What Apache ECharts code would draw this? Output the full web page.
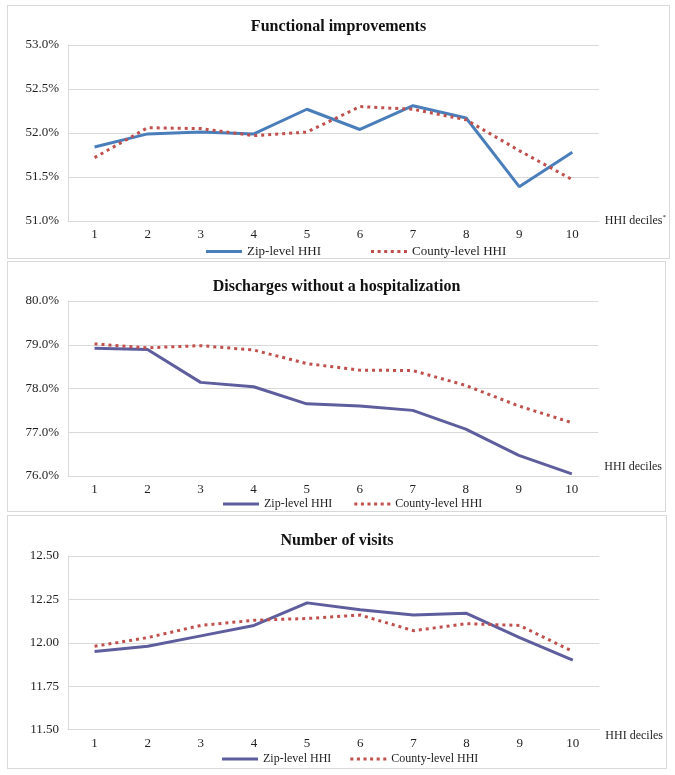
<!DOCTYPE html>
<html>
<head>
<meta charset="utf-8">
<script src="https://cdn.jsdelivr.net/npm/echarts@6/dist/echarts.min.js"></script>
<style>
  html, body { margin: 0; padding: 0; background: #fff; }
  .panel { position: absolute; border: 1px solid #d9d9d9; background: #fff; }
</style>
</head>
<body>
<div id="p1" class="panel" style="left:7px;top:5px;width:661px;height:252px;"></div>
<div id="p2" class="panel" style="left:7px;top:261px;width:657px;height:249px;"></div>
<div id="p3" class="panel" style="left:7px;top:515px;width:658px;height:252px;"></div>
<script>
// ---------- data ----------
const deciles = ['1','2','3','4','5','6','7','8','9','10'];
const seriesNames = ['Zip-level HHI', 'County-level HHI'];

const titles = ['Functional improvements', 'Discharges without a hospitalization', 'Number of visits'];

// Functional improvements (%)
const funcZip    = [51.84, 51.99, 52.01, 51.99, 52.27, 52.04, 52.31, 52.17, 51.39, 51.78];
const funcCounty = [51.72, 52.06, 52.05, 51.97, 52.01, 52.30, 52.27, 52.15, 51.80, 51.47];

// Discharges without a hospitalization (%)
const dischZip    = [78.92, 78.89, 78.14, 78.04, 77.65, 77.60, 77.50, 77.07, 76.47, 76.05];
const dischCounty = [79.02, 78.93, 78.98, 78.88, 78.57, 78.42, 78.41, 78.07, 77.60, 77.22];

// Number of visits
const visitsZip    = [11.95, 11.98, 12.04, 12.10, 12.23, 12.19, 12.16, 12.17, 12.03, 11.90];
const visitsCounty = [11.98, 12.03, 12.10, 12.13, 12.14, 12.16, 12.07, 12.11, 12.10, 11.95];

// axis ranges
const funcAxis   = { min: 51, max: 53, interval: 0.5 };
const dischAxis  = { min: 76, max: 80, interval: 1 };
const visitsAxis = { min: 11.5, max: 12.5, interval: 0.25 };

// ---------- styling ----------
const FONT = '"Liberation Serif", "Times New Roman", serif';
const TXT = '#1f1f1f';
const GRID = '#d9d9d9';
const RED = '#C0504D';
const SOLID_ICON = 'path://M0,0H36V3H0Z';
const DOT_ICON = 'path://M0,0H3V3H0Z M6.5,0H9.5V3H6.5Z M13,0H16V3H13Z M19.5,0H22.5V3H19.5Z M26,0H29V3H26Z M32.5,0H35.5V3H32.5Z';

function makeOption(cfg) {
  return {
    animation: false,
    textStyle: { fontFamily: FONT, color: TXT },
    title: {
      text: cfg.title,
      left: 'center',
      top: cfg.titleTop,
      textStyle: { fontFamily: FONT, fontSize: 16, fontWeight: 'bold', color: '#111' }
    },
    legend: {
      left: cfg.legendLeft,
      top: cfg.legendTop,
      itemWidth: 36,
      itemHeight: 14,
      itemGap: cfg.legendGap,
      textStyle: { fontFamily: FONT, fontSize: cfg.legendFont, color: TXT },
      data: [
        { name: seriesNames[0], icon: SOLID_ICON, itemStyle: { color: cfg.zipColor } },
        { name: seriesNames[1], icon: DOT_ICON, itemStyle: { color: RED } }
      ]
    },
    grid: { left: 60, top: cfg.gridTop, width: 532, height: cfg.gridHeight },
    xAxis: {
      type: 'category',
      data: deciles,
      boundaryGap: true,
      axisLine: { lineStyle: { color: GRID, width: 1 } },
      axisTick: { show: false },
      axisLabel: { fontFamily: FONT, fontSize: 13, color: TXT, margin: 7 },
      name: cfg.xName,
      nameLocation: 'end',
      nameGap: 6,
      nameTextStyle: {
        fontFamily: FONT, fontSize: 12, color: TXT, align: 'left', verticalAlign: 'middle',
        padding: cfg.xNamePad,
        rich: { sup: { fontFamily: FONT, fontSize: 7, color: TXT, verticalAlign: 'top', padding: [0,0,8,0] } }
      }
    },
    yAxis: {
      type: 'value',
      min: cfg.axis.min,
      max: cfg.axis.max,
      interval: cfg.axis.interval,
      axisLine: { show: true, lineStyle: { color: GRID, width: 1 } },
      axisTick: { show: false },
      splitLine: { lineStyle: { color: GRID, width: 1 } },
      axisLabel: { fontFamily: FONT, fontSize: 13, color: TXT, margin: 9, formatter: cfg.fmt }
    },
    series: [
      {
        name: seriesNames[0], type: 'line', data: cfg.zip, symbol: 'none',
        lineStyle: { color: cfg.zipColor, width: 3 },
        itemStyle: { color: cfg.zipColor }
      },
      {
        name: seriesNames[1], type: 'line', data: cfg.county, symbol: 'none',
        lineStyle: { color: RED, width: 3, type: [3, 4] },
        itemStyle: { color: RED }
      }
    ]
  };
}

const pctFmt = v => v.toFixed(1) + '%';
const numFmt = v => v.toFixed(2);

const configs = [
  { id: 'p1', title: titles[0], titleTop: 8, gridTop: 39, gridHeight: 176,
    axis: funcAxis, fmt: pctFmt, zip: funcZip, county: funcCounty, zipColor: '#4A7EBB',
    xName: 'HHI deciles{sup|*}', xNamePad: [0,0,0,0],
    legendLeft: 193, legendTop: 234, legendGap: 50, legendFont: 13 },
  { id: 'p2', title: titles[1], titleTop: 12, gridTop: 39, gridHeight: 175,
    axis: dischAxis, fmt: pctFmt, zip: dischZip, county: dischCounty, zipColor: '#5E5E9E',
    xName: 'HHI deciles', xNamePad: [0,0,18,0],
    legendLeft: 210, legendTop: 231, legendGap: 22, legendFont: 12 },
  { id: 'p3', title: titles[2], titleTop: 12, gridTop: 40, gridHeight: 173.6,
    axis: visitsAxis, fmt: numFmt, zip: visitsZip, county: visitsCounty, zipColor: '#5E5E9E',
    xName: 'HHI deciles', xNamePad: [12,0,0,0],
    legendLeft: 209, legendTop: 232, legendGap: 19, legendFont: 12 }
];

configs.forEach(cfg => {
  const chart = echarts.init(document.getElementById(cfg.id), null, { renderer: 'canvas' });
  chart.setOption(makeOption(cfg));
});
</script>
</body>
</html>
